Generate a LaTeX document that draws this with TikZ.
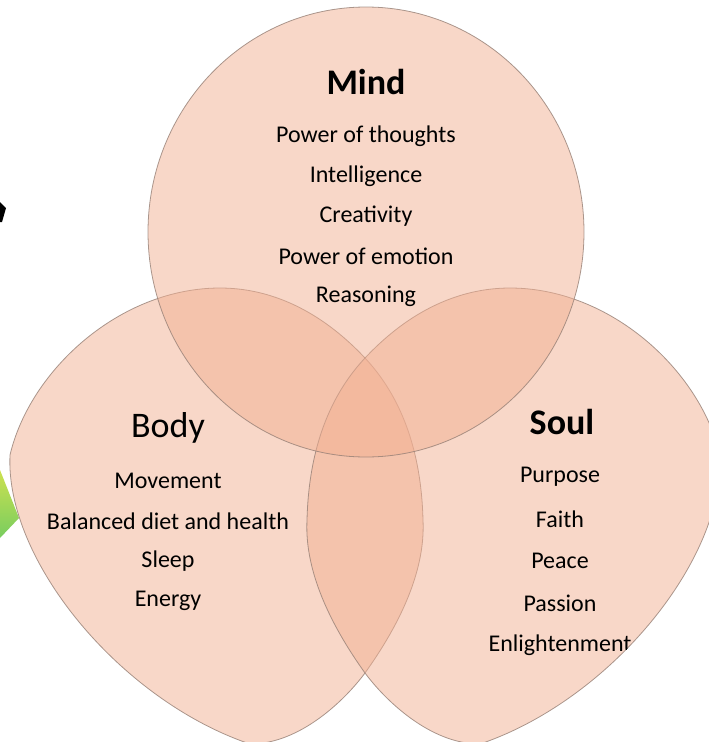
\documentclass[tikz,border=0pt]{standalone}
\usepackage{fontspec}
\setmainfont{Carlito}

\definecolor{petalfill}{RGB}{241,175,145}
\definecolor{petalline}{RGB}{150,128,118}
\definecolor{chipyellow}{RGB}{205,225,80}
\definecolor{chipteal}{RGB}{70,190,185}
\definecolor{chipgreen}{RGB}{120,205,95}

\tikzset{
  petal/.style={fill=petalfill, fill opacity=0.5, draw=petalline, draw opacity=0.8, line width=0.8pt},
  title/.style={font=\fontsize{36}{40}\selectfont, inner sep=0pt},
  item/.style={font=\fontsize{24}{28}\selectfont, inner sep=0pt},
}

% left-hand lobe, the right-hand one is its mirror image
\def\petalpath{(220,288) .. controls (120,288) and (30,370) .. (10,455)
  .. controls (5,560) and (120,700) .. (250,744)
  .. controls (300,744) and (345,700) .. (365,673)
  .. controls (410,610) and (425,560) .. (423,520)
  .. controls (421,440) and (395,390) .. (365,358)
  .. controls (320,310) and (270,288) .. (220,288) -- cycle}

\begin{document}
\begin{tikzpicture}[x=1pt, y=-1pt]
\useasboundingbox (0,0) rectangle (709,742);
\clip (0,0) rectangle (709,742);

% bits of neighbouring graphics at the left margin
\fill[black] (0,202) -- (6,208) -- (2,222) -- (0,222) -- cycle;
\shade[top color=chipyellow, middle color=chipteal, bottom color=chipgreen]
  (0,470) -- (19,518) -- (0,538) -- cycle;

% the three lobes
\path[petal] \petalpath;
\path[petal, shift={(730,0)}, xscale=-1] \petalpath;
\path[petal] (366,232) ellipse [x radius=218, y radius=225];

% Mind
\node[title, font=\fontsize{36}{40}\selectfont\bfseries] (mind) at (366,82) {Mind};
\foreach \txt [count=\i] in {Power of thoughts, Intelligence, Creativity, Power of emotion, Reasoning}
  \node[item] (mind-\i) at (366,96+40*\i) {\txt};

% Body
\node[title] (body) at (168,428) {Body};
\foreach \txt [count=\i] in {Movement, Balanced diet and health, Sleep, Energy}
  \node[item] (body-\i) at (168,441+40*\i) {\txt};

% Soul (text stops at the lobe's edge)
\begin{scope}
  \clip[shift={(730,0)}, xscale=-1] \petalpath;
  \node[title, font=\fontsize{36}{40}\selectfont\bfseries] (soul) at (562,422) {Soul};
  \foreach \txt [count=\i] in {Purpose, Faith, Peace, Passion, Enlightenment}
    \node[item] (soul-\i) at (560,435+42*\i) {\txt};
\end{scope}
\end{tikzpicture}
\end{document}
